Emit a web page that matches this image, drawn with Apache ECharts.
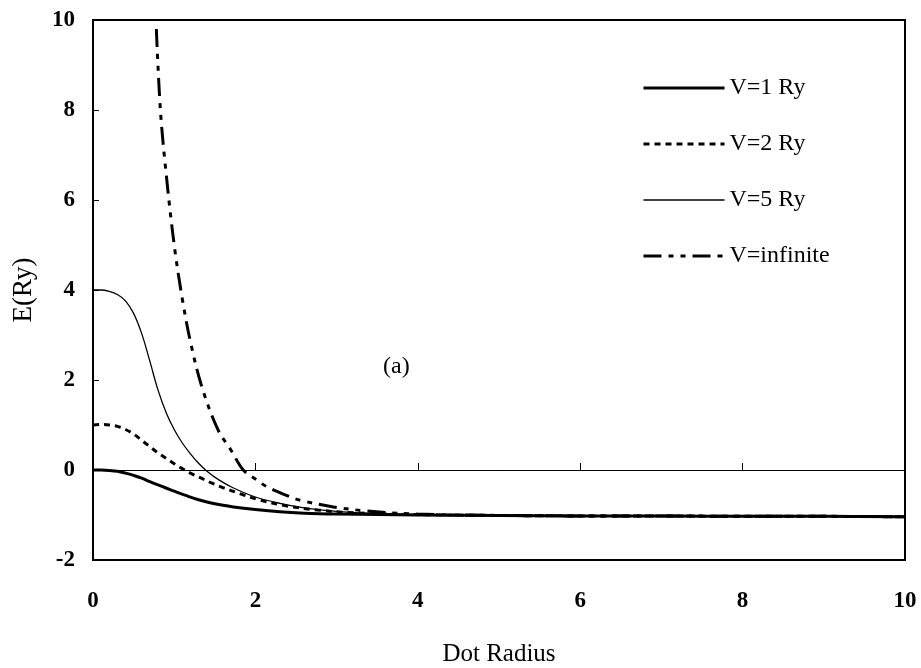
<!DOCTYPE html>
<html>
<head>
<meta charset="utf-8">
<script src="https://cdn.jsdelivr.net/npm/echarts@6/dist/echarts.min.js"></script>
<style>
html,body{margin:0;padding:0;background:#fff;}
#chart{width:921px;height:668px;}
</style>
</head>
<body>
<div id="chart"></div>
<script>
// ---- data ----
const seriesNames = ['V=1 Ry', 'V=2 Ry', 'V=5 Ry', 'V=infinite'];

const v1X = [0, 0.1, 0.2, 0.3, 0.4, 0.5, 0.6, 0.7, 0.8, 0.9, 1.0, 1.15, 1.3, 1.5, 1.73, 2.0, 2.3, 2.6, 3.0, 3.5, 4, 5, 6, 7, 8, 9, 10];
const v1Y = [0, 0, -0.01, -0.03, -0.07, -0.12, -0.18, -0.26, -0.33, -0.4, -0.47, -0.57, -0.66, -0.75, -0.82, -0.88, -0.93, -0.96, -0.98, -0.99, -1.0, -1.01, -1.02, -1.02, -1.03, -1.03, -1.04];

const v2X = [0, 0.1, 0.2, 0.3, 0.4, 0.5, 0.6, 0.7, 0.8, 0.9, 1.0, 1.1, 1.2, 1.32, 1.45, 1.6, 1.8, 2.04, 2.36, 2.77, 3.2, 4, 5, 6, 7, 8, 9, 10];
const v2Y = [1.0, 1.01, 1.0, 0.97, 0.9, 0.8, 0.66, 0.52, 0.38, 0.26, 0.14, 0.03, -0.07, -0.17, -0.28, -0.39, -0.52, -0.66, -0.79, -0.89, -0.95, -0.99, -1.01, -1.02, -1.02, -1.03, -1.03, -1.04];

const v5X = [0, 0.1, 0.2, 0.3, 0.4, 0.5, 0.6, 0.7, 0.8, 0.9, 1.0, 1.1, 1.2, 1.3, 1.4, 1.55, 1.73, 2.0, 2.3, 2.6, 3.0, 3.4, 4, 5, 6, 7, 8, 9, 10];
const v5Y = [4.0, 4.0, 3.97, 3.9, 3.76, 3.48, 3.03, 2.42, 1.78, 1.28, 0.9, 0.6, 0.36, 0.15, -0.02, -0.22, -0.4, -0.6, -0.74, -0.84, -0.92, -0.96, -0.99, -1.01, -1.02, -1.02, -1.03, -1.03, -1.04];

const vInfX = [0.78, 0.83, 0.9, 1.0, 1.1, 1.2, 1.34, 1.54, 1.7, 1.85, 2.0, 2.14, 2.35, 2.55, 2.96, 3.37, 4, 5, 6, 7, 8, 9, 10];
const vInfY = [9.8, 8.0, 6.6, 5.0, 3.8, 2.85, 1.85, 0.89, 0.44, 0.0, -0.2, -0.37, -0.54, -0.67, -0.82, -0.91, -0.98, -1.01, -1.02, -1.02, -1.03, -1.03, -1.04];

const xTicks = [0, 2, 4, 6, 8, 10];
const yTicks = [-2, 0, 2, 4, 6, 8, 10];
const xTitle = 'Dot Radius';
const yTitle = 'E(Ry)';
const panelLabel = '(a)';

// ---- build ----
function pairs(xs, ys) { return xs.map((x, i) => [x, ys[i]]); }
const FONT = 'Liberation Serif';

const chart = echarts.init(document.getElementById('chart'), null, {renderer: 'canvas'});

const lineStyles = [
  {color: '#000', width: 3, type: 'solid'},
  {color: '#000', width: 3, type: [6, 5]},
  {color: '#000', width: 1.3, type: 'solid'},
  {color: '#000', width: 3, type: [18, 7, 5, 7, 5, 7]}
];
const dataSets = [pairs(v1X, v1Y), pairs(v2X, v2Y), pairs(v5X, v5Y), pairs(vInfX, vInfY)];

const option = {
  backgroundColor: '#fff',
  animation: false,
  grid: {left: 93, top: 20, right: 16, bottom: 108, show: true, borderColor: '#000', borderWidth: 2, backgroundColor: 'transparent', containLabel: false, outerBoundsMode: 'none'},
  legend: {
    data: seriesNames.map((n, i) => ({name: n, lineStyle: Object.assign({}, lineStyles[i]), itemStyle: {opacity: 0, color: 'rgba(0,0,0,0)', borderWidth: 0}})),
    orient: 'vertical',
    left: 642, top: 76,
    itemWidth: 81, itemHeight: 14, itemGap: 32,
    selectedMode: false,
    padding: 0,
    itemStyle: {opacity: 0, color: 'rgba(0,0,0,0)', borderWidth: 0},
    textStyle: {fontFamily: FONT, fontSize: 24, color: '#000'}
  },
  xAxis: [
    {
      type: 'value', min: xTicks[0], max: xTicks[xTicks.length - 1], interval: 2,
      position: 'bottom',
      axisLine: {show: false, onZero: false},
      axisTick: {show: false},
      splitLine: {show: false},
      axisLabel: {fontFamily: FONT, fontSize: 23, fontWeight: 'bold', color: '#000', margin: 30},
      name: xTitle, nameLocation: 'middle', nameGap: 82,
      nameTextStyle: {fontFamily: FONT, fontSize: 25, color: '#000'}
    },
    {
      type: 'value', min: xTicks[0], max: xTicks[xTicks.length - 1], interval: 2,
      position: 'bottom',
      axisLine: {show: true, onZero: true, lineStyle: {color: '#000', width: 1}},
      axisTick: {show: true, inside: true, length: 7, lineStyle: {color: '#000', width: 1}},
      axisLabel: {show: false},
      splitLine: {show: false}
    }
  ],
  yAxis: {
    type: 'value', min: yTicks[0], max: yTicks[yTicks.length - 1], interval: 2,
    axisLine: {show: false, onZero: false},
    axisTick: {show: true, inside: true, length: 6, lineStyle: {color: '#000', width: 1}},
    splitLine: {show: false},
    axisLabel: {fontFamily: FONT, fontSize: 23, fontWeight: 'bold', color: '#000', margin: 18},
    name: yTitle, nameLocation: 'middle', nameRotate: 90, nameGap: 56,
    nameTextStyle: {fontFamily: FONT, fontSize: 27, color: '#000'}
  },
  graphic: [{
    type: 'text', left: 383, top: 355,
    style: {text: panelLabel, font: '24px "Liberation Serif"', fill: '#000'}
  }],
  series: seriesNames.map((n, i) => ({
    name: n, type: 'line', xAxisIndex: 0, data: dataSets[i],
    showSymbol: false, symbol: 'none', smooth: 0.35,
    lineStyle: lineStyles[i], itemStyle: {color: '#000'}
  }))
};
chart.setOption(option);
</script>
</body>
</html>
